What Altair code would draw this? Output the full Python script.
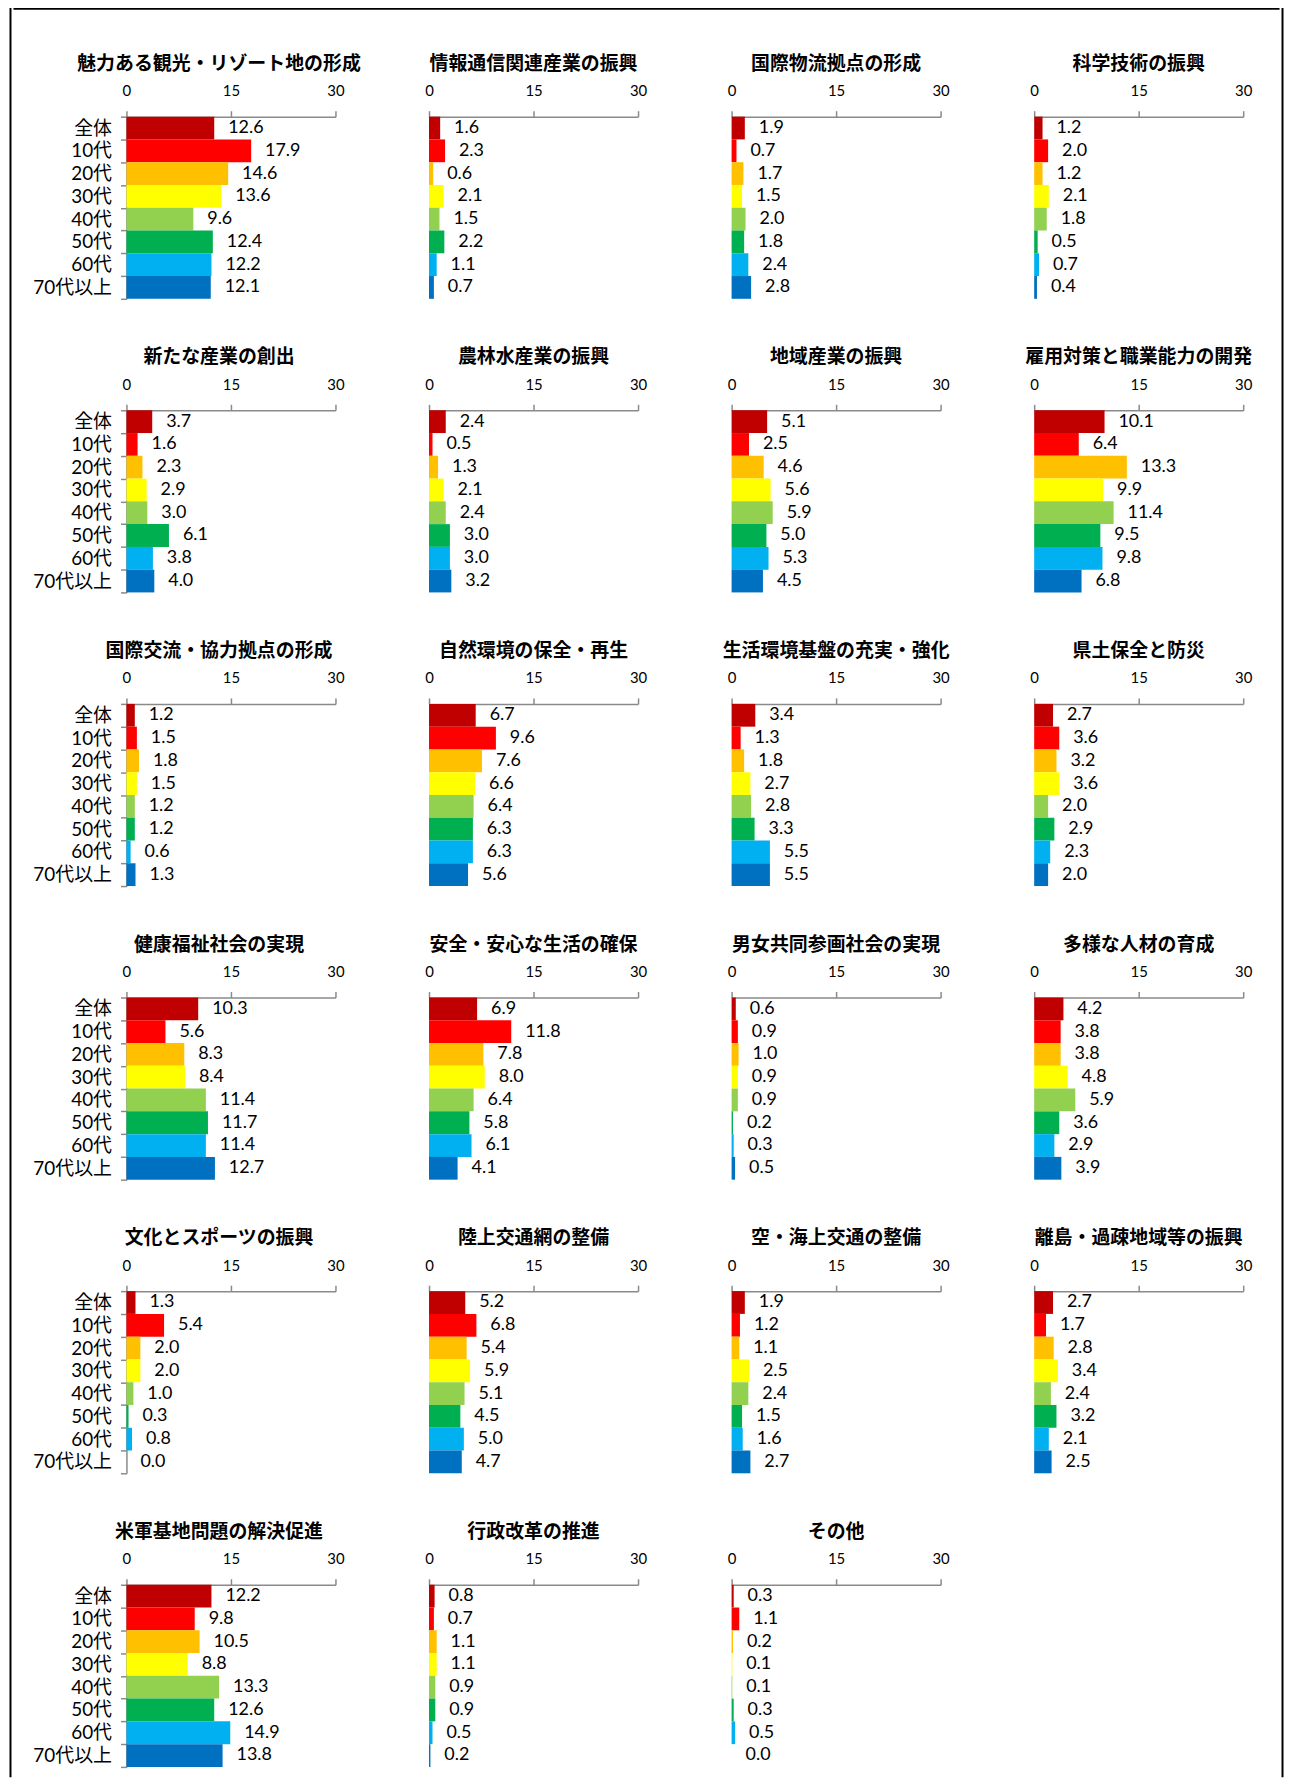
import altair as alt
import pandas as pd

groups = ["全体", "10代", "20代", "30代", "40代", "50代", "60代", "70代以上"]
colors = ["#C00000", "#FF0000", "#FFC000", "#FFFF00", "#92D050", "#00B050", "#00B0F0", "#0070C0"]

titles = [
    "魅力ある観光・リゾート地の形成", "情報通信関連産業の振興", "国際物流拠点の形成", "科学技術の振興",
    "新たな産業の創出", "農林水産業の振興", "地域産業の振興", "雇用対策と職業能力の開発",
    "国際交流・協力拠点の形成", "自然環境の保全・再生", "生活環境基盤の充実・強化", "県土保全と防災",
    "健康福祉社会の実現", "安全・安心な生活の確保", "男女共同参画社会の実現", "多様な人材の育成",
    "文化とスポーツの振興", "陸上交通網の整備", "空・海上交通の整備", "離島・過疎地域等の振興",
    "米軍基地問題の解決促進", "行政改革の推進", "その他",
]

v01 = [12.6, 17.9, 14.6, 13.6, 9.6, 12.4, 12.2, 12.1]
v02 = [1.6, 2.3, 0.6, 2.1, 1.5, 2.2, 1.1, 0.7]
v03 = [1.9, 0.7, 1.7, 1.5, 2.0, 1.8, 2.4, 2.8]
v04 = [1.2, 2.0, 1.2, 2.1, 1.8, 0.5, 0.7, 0.4]
v05 = [3.7, 1.6, 2.3, 2.9, 3.0, 6.1, 3.8, 4.0]
v06 = [2.4, 0.5, 1.3, 2.1, 2.4, 3.0, 3.0, 3.2]
v07 = [5.1, 2.5, 4.6, 5.6, 5.9, 5.0, 5.3, 4.5]
v08 = [10.1, 6.4, 13.3, 9.9, 11.4, 9.5, 9.8, 6.8]
v09 = [1.2, 1.5, 1.8, 1.5, 1.2, 1.2, 0.6, 1.3]
v10 = [6.7, 9.6, 7.6, 6.6, 6.4, 6.3, 6.3, 5.6]
v11 = [3.4, 1.3, 1.8, 2.7, 2.8, 3.3, 5.5, 5.5]
v12 = [2.7, 3.6, 3.2, 3.6, 2.0, 2.9, 2.3, 2.0]
v13 = [10.3, 5.6, 8.3, 8.4, 11.4, 11.7, 11.4, 12.7]
v14 = [6.9, 11.8, 7.8, 8.0, 6.4, 5.8, 6.1, 4.1]
v15 = [0.6, 0.9, 1.0, 0.9, 0.9, 0.2, 0.3, 0.5]
v16 = [4.2, 3.8, 3.8, 4.8, 5.9, 3.6, 2.9, 3.9]
v17 = [1.3, 5.4, 2.0, 2.0, 1.0, 0.3, 0.8, 0.0]
v18 = [5.2, 6.8, 5.4, 5.9, 5.1, 4.5, 5.0, 4.7]
v19 = [1.9, 1.2, 1.1, 2.5, 2.4, 1.5, 1.6, 2.7]
v20 = [2.7, 1.7, 2.8, 3.4, 2.4, 3.2, 2.1, 2.5]
v21 = [12.2, 9.8, 10.5, 8.8, 13.3, 12.6, 14.9, 13.8]
v22 = [0.8, 0.7, 1.1, 1.1, 0.9, 0.9, 0.5, 0.2]
v23 = [0.3, 1.1, 0.2, 0.1, 0.1, 0.3, 0.5, 0.0]

series = [v01, v02, v03, v04, v05, v06, v07, v08, v09, v10, v11, v12,
          v13, v14, v15, v16, v17, v18, v19, v20, v21, v22, v23]

FONT = "Lato, 'Noto Sans CJK JP', sans-serif"
JFONT = "'Noto Sans CJK JP', sans-serif"
GREY = "#8A8A8A"

x_axis = alt.Axis(orient="top", values=[0, 15, 30], title=None, grid=False,
                  labelFontSize=15, labelFont=FONT, labelColor="black", labelPadding=12,
                  tickSize=6, tickColor=GREY, domainColor=GREY, domainWidth=1.5,
                  tickWidth=1.5, labelFlush=False)
y_axis = alt.Axis(title=None, labelFontSize=19, labelFont=FONT, labelColor="black",
                  labelPadding=9, tickSize=6, tickColor=GREY, domainColor=GREY,
                  domainWidth=1.5, tickWidth=1.5, tickBand="extent")


def panel(i, title, vals):
    d = pd.DataFrame({"group": groups, "value": vals})
    first_col = i % 4 == 0
    y_enc = alt.Y("group:N", sort=groups,
                  scale=alt.Scale(paddingInner=0, paddingOuter=0),
                  axis=y_axis if first_col else None)
    x_enc = alt.X("value:Q", scale=alt.Scale(domain=[0, 30], nice=False, zero=True), axis=x_axis)
    bars = alt.Chart(d).mark_bar().encode(
        x=x_enc, y=y_enc,
        color=alt.Color("group:N", sort=groups,
                        scale=alt.Scale(domain=groups, range=colors), legend=None),
    )
    labels = alt.Chart(d).mark_text(align="left", baseline="middle", dx=14, fontSize=18,
                                    font=FONT, color="black").encode(
        x=x_enc, y=y_enc, text=alt.Text("value:Q", format=".1f"),
    )
    return alt.layer(bars, labels).properties(
        width=210, height=183,
        title=alt.TitleParams(text=title, fontSize=19, fontWeight="bold", font=JFONT,
                              color="black", offset=10, anchor="middle", frame="group",
                              dx=-12 if first_col else 0),
    )


panels = [panel(i, t, v) for i, (t, v) in enumerate(zip(titles, series))]
grid = alt.concat(*panels, columns=4, bounds="flush",
                  spacing={"row": 112, "column": 94})


def block(w, h, fill):
    return alt.Chart(pd.DataFrame({"a": [0]})).mark_rect(opacity=0).encode(
        x=alt.value(0), x2=alt.value(0), y=alt.value(0), y2=alt.value(0)
    ).properties(width=w, height=h,
                 view=alt.ViewBackground(fill=fill, stroke="transparent"))


inner = alt.hconcat(block(18, 10, "transparent"), grid, spacing=0)
middle = alt.vconcat(block(1272, 2, "black"), inner, spacing=44)
chart = alt.hconcat(block(2, 1778, "black"), middle, block(2, 1778, "black"), spacing=0).properties(
    padding={"left": 0, "top": -6, "right": 0, "bottom": 0}
).configure_view(stroke="transparent")

chart.save("out.html", embed_options={"renderer": "svg", "actions": False})
